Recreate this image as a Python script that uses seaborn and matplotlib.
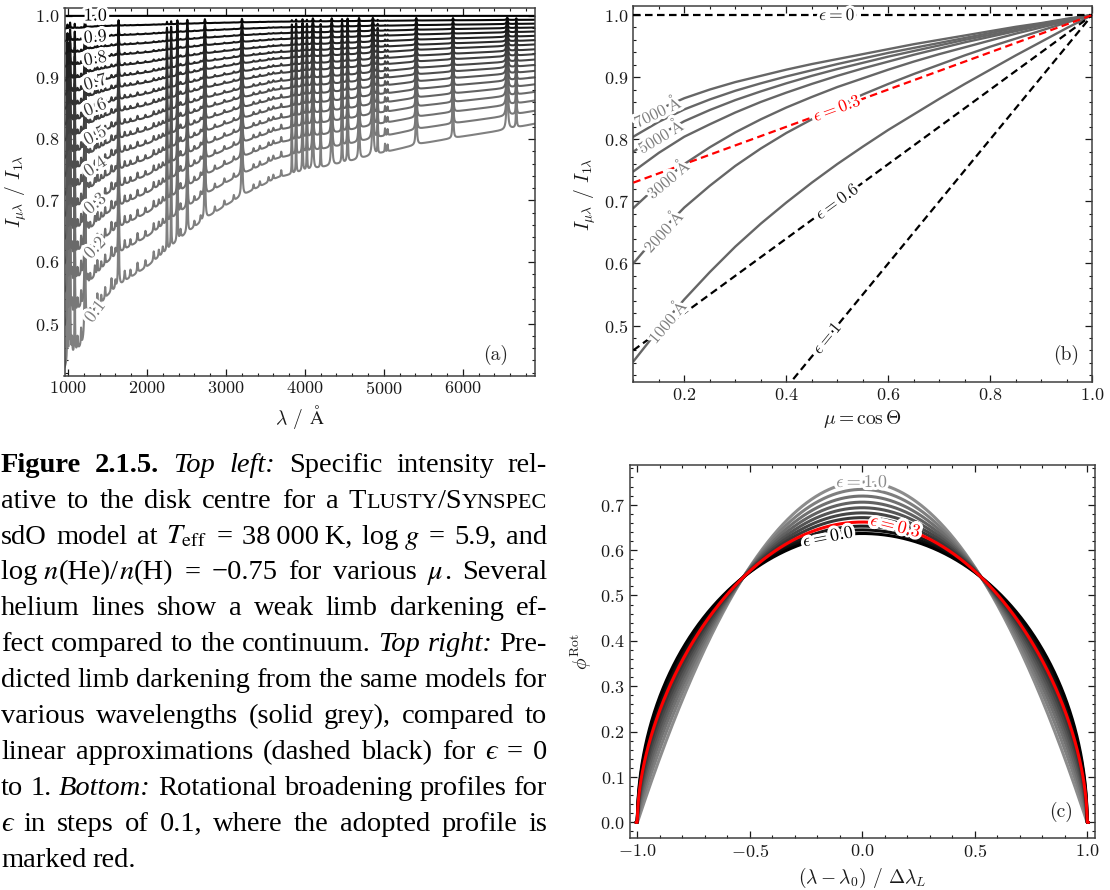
import numpy as np
import pandas as pd
import matplotlib
matplotlib.use("Agg")
import matplotlib.pyplot as plt
import matplotlib.patheffects as pe
from matplotlib.ticker import MultipleLocator
import seaborn as sns

# ---------------------------------------------------------------- data
# Panel (a): specific intensity relative to disk centre
MU_VALUES = [0.10, 0.15, 0.20, 0.25, 0.30, 0.35, 0.40, 0.45, 0.50, 0.55,
             0.60, 0.65, 0.70, 0.75, 0.80, 0.85, 0.90, 0.95, 1.00]
# relative continuum darkening of each mu curve (1 = mu 0.1 curve, 0 = disk centre)
LIMB_SHAPE = [1.00, 0.88, 0.785, 0.705, 0.635, 0.57, 0.51, 0.455, 0.405, 0.355,
              0.31, 0.265, 0.225, 0.185, 0.145, 0.108, 0.072, 0.036, 0.0]
# continuum of the mu = 0.1 curve
WAVE_KNOTS = [950, 1000, 1100, 1200, 1212, 1240, 1300, 1500, 1750, 2000, 2250,
              2500, 2750, 3000, 3300, 3650, 4000, 4500, 5000, 5500, 6000, 6500, 7000]
CONT_MU01 = [0.425, 0.438, 0.452, 0.468, 0.472, 0.500, 0.512, 0.545, 0.571, 0.592, 0.618,
             0.646, 0.671, 0.692, 0.714, 0.737, 0.748, 0.761, 0.778, 0.793, 0.804, 0.814, 0.827]
# H / He lines (weaker limb darkening inside the lines)
LINE_WAVES = [992, 1026, 1085, 1215, 1640, 2253, 2306, 2385, 2511, 2733, 3203,
              3835, 3889, 3970, 4026, 4101, 4200,
              4340, 4471, 4541, 4686, 4861, 4922, 5411, 5876, 6563, 6678]
LINE_FRAC = [0.30, 0.45, 0.35, 0.60, 0.55, 0.30, 0.35, 0.45, 0.50, 0.55, 0.55,
             0.25, 0.35, 0.40, 0.30, 0.55, 0.25,
             0.55, 0.40, 0.50, 0.60, 0.60, 0.20, 0.55, 0.50, 0.60, 0.40]
LINE_HWHM = [3, 3.5, 3, 5, 4, 3, 3, 3.5, 4, 5, 5.5,
             3, 3.5, 4, 3.5, 5.5, 3.5,
             6, 4, 4, 5, 7, 3.5, 5.5, 5, 8, 4]
WEAK_WAVES = [1010, 1050, 1120, 1165, 1250, 1280, 1340, 1371, 1420, 1470, 1550, 1600,
              1718, 1790, 1880, 1980, 2085, 2150, 2200, 2425, 2600, 2680, 2860, 2980,
              3100, 3350, 3430, 3540, 3600, 3700, 5015, 5048]
WEAK_FRAC = [0.04, 0.05, 0.04, 0.05, 0.03, 0.03, 0.04, 0.05, 0.03, 0.04, 0.05, 0.03,
             0.04, 0.03, 0.04, 0.03, 0.04, 0.03, 0.03, 0.04, 0.03, 0.03, 0.03, 0.03,
             0.03, 0.03, 0.03, 0.03, 0.03, 0.04, 0.06, 0.05]
WEAK_HWHM = [4, 5, 5, 4, 5, 5, 6, 5, 6, 5, 7, 6, 7, 6, 7, 7, 7, 6, 7, 7, 7, 7, 7, 7,
             7, 7, 7, 7, 7, 5, 4, 4]
MU_LABEL_WAVE = 1345

# Panel (b): limb darkening at various wavelengths
LD_MU = [0.10, 0.15, 0.20, 0.25, 0.30, 0.35, 0.40, 0.45, 0.50, 0.55,
         0.60, 0.65, 0.70, 0.75, 0.80, 0.85, 0.90, 0.95, 1.00]
LD_7000 = [0.827, 0.848, 0.866, 0.880, 0.892, 0.902, 0.912, 0.921, 0.929, 0.937,
           0.945, 0.953, 0.960, 0.967, 0.974, 0.981, 0.987, 0.994, 1.000]
LD_6000 = [0.804, 0.828, 0.848, 0.864, 0.878, 0.890, 0.901, 0.911, 0.921, 0.930,
           0.939, 0.947, 0.955, 0.963, 0.971, 0.979, 0.986, 0.993, 1.000]
LD_5000 = [0.780, 0.806, 0.829, 0.847, 0.863, 0.877, 0.890, 0.902, 0.913, 0.923,
           0.933, 0.942, 0.951, 0.960, 0.968, 0.976, 0.984, 0.992, 1.000]
LD_4000 = [0.748, 0.778, 0.804, 0.824, 0.843, 0.860, 0.875, 0.889, 0.902, 0.914,
           0.925, 0.936, 0.946, 0.956, 0.965, 0.974, 0.983, 0.992, 1.000]
LD_3000 = [0.689, 0.727, 0.760, 0.787, 0.811, 0.832, 0.851, 0.868, 0.884, 0.898,
           0.912, 0.925, 0.937, 0.948, 0.959, 0.970, 0.980, 0.990, 1.000]
LD_2000 = [0.600, 0.648, 0.690, 0.725, 0.757, 0.785, 0.810, 0.832, 0.853, 0.872,
           0.889, 0.905, 0.920, 0.935, 0.949, 0.962, 0.975, 0.988, 1.000]
LD_1000 = [0.442, 0.494, 0.542, 0.586, 0.627, 0.664, 0.698, 0.730, 0.760, 0.788,
           0.815, 0.840, 0.865, 0.889, 0.912, 0.935, 0.957, 0.979, 1.000]
LD_LABEL_MU = {7000: 0.147, 5000: 0.153, 3000: 0.167, 2000: 0.157, 1000: 0.165}
EPS_LINES = [0.0, 0.3, 0.6, 1.0]
EPS_LINE_LABEL_MU = [0.5, 0.5, 0.5, 0.48]

# Panel (c): rotational broadening profiles
EPS_PROFILES = [0.0, 0.1, 0.2, 0.3, 0.4, 0.5, 0.6, 0.7, 0.8, 0.9, 1.0]
EPS_ADOPTED = 0.3
EPS_PROFILE_LABELS = {1.0: 0.0, 0.3: 0.15, 0.0: -0.15}

# Caption
CAPTION = [
    [("Figure", "bf"), ("2.1.5.", "bf"), ("Top", "it"), ("left:", "it"), "Specific", "intensity", "rel-"],
    ["ative", "to", "the", "disk", "centre", "for", "a",
     [("T", "rm"), ("LUSTY", "sc"), ("/S", "rm"), ("YNSPEC", "sc")]],
    ["sdO", "model", "at", ("$T_{\\mathrm{eff}}$", "rm"), "=", "38\u2009000\u2009K,",
     [("log\u2009", "rm"), ("$g$", "rm")], "=", "5.9,", "and"],
    [[("log\u2009", "rm"), ("$n$", "rm"), ("(He)/", "rm"), ("$n$", "rm"), ("(H)", "rm")],
     "=", "\u22120.75", "for", "various", [("$\\mu$", "rm"), (".", "rm")], "Several"],
    ["helium", "lines", "show", "a", "weak", "limb", "darkening", "ef-"],
    ["fect", "compared", "to", "the", "continuum.", ("Top", "it"), ("right:", "it"), "Pre-"],
    ["dicted", "limb", "darkening", "from", "the", "same", "models", "for"],
    ["various", "wavelengths", "(solid", "grey),", "compared", "to"],
    ["linear", "approximations", "(dashed", "black)", "for", ("\u03f5", "rm"), "=", "0"],
    ["to", "1.", ("Bottom:", "it"), "Rotational", "broadening", "profiles", "for"],
    [("\u03f5", "rm"), "in", "steps", "of", "0.1,", "where", "the", "adopted", "profile", "is"],
    ["marked", "red."],
]

# ---------------------------------------------------------------- style
sns.set_theme(style="ticks")
plt.rcParams.update({
    "font.family": "serif",
    "font.serif": ["cmr10", "DejaVu Serif"],
    "mathtext.fontset": "cm",
    "axes.formatter.use_mathtext": True,
    "axes.unicode_minus": True,
    "axes.edgecolor": "#404040",
    "axes.linewidth": 1.1,
    "axes.labelcolor": "#1a1a1a",
    "axes.labelsize": 14,
    "xtick.direction": "in", "ytick.direction": "in",
    "xtick.top": True, "ytick.right": True,
    "xtick.major.size": 5, "ytick.major.size": 5,
    "xtick.minor.size": 2.5, "ytick.minor.size": 2.5,
    "xtick.major.width": 0.9, "ytick.major.width": 0.9,
    "xtick.minor.width": 0.8, "ytick.minor.width": 0.8,
    "xtick.color": "#1a1a1a", "ytick.color": "#1a1a1a",
    "xtick.labelsize": 13, "ytick.labelsize": 13,
})

W, H = 1110, 890
fig = plt.figure(figsize=(W / 100, H / 100), dpi=100)


def add_ax(l, t, r, b):
    return fig.add_axes([l / W, 1 - b / H, (r - l) / W, (b - t) / H])


def screen_angle(ax, x0, y0, x1, y1):
    p0 = ax.transData.transform((x0, y0))
    p1 = ax.transData.transform((x1, y1))
    return np.degrees(np.arctan2(p1[1] - p0[1], p1[0] - p0[0]))


halo = [pe.withStroke(linewidth=4.5, foreground="white")]


def inline_label(ax, x, y, ang, s, color, size):
    ax.text(x, y, s, color=color, fontsize=size, rotation=ang, rotation_mode="anchor",
            ha="center", va="center", zorder=6, path_effects=halo)


def style_ticks(ax, xmaj, xmin, ymaj, ymin):
    ax.xaxis.set_major_locator(MultipleLocator(xmaj))
    ax.xaxis.set_minor_locator(MultipleLocator(xmin))
    ax.yaxis.set_major_locator(MultipleLocator(ymaj))
    ax.yaxis.set_minor_locator(MultipleLocator(ymin))
    ax.tick_params(which="both", top=True, right=True, direction="in")


# ---------------------------------------------------------------- panel (a)
axA = add_ax(64.5, 7.7, 535, 375.5)
wl = np.arange(950.0, 6921.0, 1.0)
cont01 = np.interp(wl, WAVE_KNOTS, CONT_MU01)
prof = np.zeros_like(wl)
for w0, f, hw in zip(LINE_WAVES + WEAK_WAVES, LINE_FRAC + WEAK_FRAC, LINE_HWHM + WEAK_HWHM):
    prof += f * hw ** 2 / ((wl - w0) ** 2 + hw ** 2)
prof = np.clip(prof, 0, 0.9)

frames = []
for mu, g in zip(MU_VALUES, LIMB_SHAPE):
    frames.append(pd.DataFrame({"wl": wl, "I": 1 - (1 - cont01) * g * (1 - prof), "mu": mu}))
dfA = pd.concat(frames, ignore_index=True)


def mu_color(mu):
    c = 0.5 * (1 - (mu - 0.1) / 0.9)
    return (c, c, c)


palA = {mu: mu_color(mu) for mu in MU_VALUES}
sns.lineplot(data=dfA, x="wl", y="I", hue="mu", hue_order=MU_VALUES, palette=palA,
             estimator=None, sort=False, legend=False, linewidth=1.5, ax=axA)
axA.set_xlim(955, 6915)
axA.set_ylim(0.4155, 1.0133)
style_ticks(axA, 1000, 200, 0.1, 0.02)
axA.set_xlabel(r"$\lambda$ / $\mathrm{\AA}$")
axA.set_ylabel(r"$I_{\mu\lambda}$ / $I_{1\lambda}$")

for mu, g in zip(MU_VALUES, LIMB_SHAPE):
    if abs(mu * 10 - round(mu * 10)) > 1e-6:
        continue
    def cval(lam):
        return 1 - (1 - np.interp(lam, WAVE_KNOTS, CONT_MU01)) * g
    yl = cval(MU_LABEL_WAVE)
    ang = screen_angle(axA, MU_LABEL_WAVE - 50, cval(MU_LABEL_WAVE - 50),
                       MU_LABEL_WAVE + 50, cval(MU_LABEL_WAVE + 50))
    inline_label(axA, MU_LABEL_WAVE, yl, ang, f"{mu:.1f}", palA[mu], 13)
axA.text(0.917, 0.057, "(a)", transform=axA.transAxes, ha="center", va="center", fontsize=14)

# ---------------------------------------------------------------- panel (b)
axB = add_ax(633.3, 6.0, 1092.3, 381.7)
ld_curves = {7000: LD_7000, 6000: LD_6000, 5000: LD_5000, 4000: LD_4000,
             3000: LD_3000, 2000: LD_2000, 1000: LD_1000}
dfB = pd.concat([pd.DataFrame({"mu": LD_MU, "I": v, "wave": k}) for k, v in ld_curves.items()],
                ignore_index=True)
sns.lineplot(data=dfB, x="mu", y="I", hue="wave", palette={k: "#666666" for k in ld_curves},
             estimator=None, legend=False, linewidth=1.7, ax=axB, zorder=2)
mu_ends = [0.1, 1.0]
for eps in EPS_LINES:
    col = "red" if abs(eps - 0.3) < 1e-9 else "black"
    sns.lineplot(x=mu_ends, y=[1 - eps * (1 - m) for m in mu_ends], color=col,
                 linestyle=(0, (3.4, 2.0)), linewidth=1.6, ax=axB, zorder=4 if col == "red" else 3)
axB.set_xlim(0.1, 1.0)
axB.set_ylim(0.4095, 1.0145)
style_ticks(axB, 0.2, 0.05, 0.1, 0.02)
axB.set_xlabel(r"$\mu = \cos\Theta$")
axB.set_ylabel(r"$I_{\mu\lambda}$ / $I_{1\lambda}$")

for wave, mu_l in LD_LABEL_MU.items():
    vals = ld_curves[wave]
    yl = np.interp(mu_l, LD_MU, vals)
    ang = screen_angle(axB, mu_l - 0.03, np.interp(mu_l - 0.03, LD_MU, vals),
                       mu_l + 0.03, np.interp(mu_l + 0.03, LD_MU, vals))
    inline_label(axB, mu_l, yl, ang, rf"${wave}\;\mathrm{{\AA}}$", "#808080", 12)
for eps, mu_l in zip(EPS_LINES, EPS_LINE_LABEL_MU):
    col = "red" if abs(eps - 0.3) < 1e-9 else "#1a1a1a"
    ang = screen_angle(axB, 0.1, 1 - eps * 0.9, 1.0, 1.0)
    lab = "0" if eps == 0 else ("1" if eps == 1 else f"{eps:.1f}")
    inline_label(axB, mu_l, 1 - eps * (1 - mu_l), ang, rf"$\epsilon = {lab}$", col, 12.5)
axB.text(0.943, 0.071, "(b)", transform=axB.transAxes, ha="center", va="center", fontsize=14)

# ---------------------------------------------------------------- panel (c)
axC = add_ax(629.5, 465.0, 1095, 838.3)
x_prof = np.linspace(-1.006, 1.006, 1207)


def rot_profile(x, eps):
    q = np.clip(1 - x ** 2, 0, None)
    return (2 * (1 - eps) * np.sqrt(q) + 0.5 * np.pi * eps * q) / (np.pi * (1 - eps / 3))


dfC = pd.concat([pd.DataFrame({"x": x_prof, "phi": rot_profile(x_prof, e), "eps": e})
                 for e in EPS_PROFILES], ignore_index=True)


def eps_color(e):
    c = 0.55 * e
    return (c, c, c)


order_c = [e for e in EPS_PROFILES[::-1] if abs(e - EPS_ADOPTED) > 1e-9]
sns.lineplot(data=dfC[dfC["eps"].isin(order_c)], x="x", y="phi", hue="eps", hue_order=order_c,
             palette={e: eps_color(e) for e in order_c}, estimator=None, sort=False,
             legend=False, linewidth=2.2, ax=axC)
sns.lineplot(data=dfC[np.isclose(dfC["eps"], EPS_ADOPTED)], x="x", y="phi", color="red",
             estimator=None, sort=False, linewidth=2.2, ax=axC, zorder=4)
axC.set_xlim(-1.035, 1.035)
axC.set_ylim(-0.035, 0.7875)
style_ticks(axC, 0.5, 0.1, 0.1, 0.02)
axC.set_xlabel(r"$(\lambda - \lambda_0)$ / $\Delta\lambda_L$")
axC.set_ylabel(r"$\phi^{\mathrm{Rot}}$")
for e, xl in EPS_PROFILE_LABELS.items():
    col = "red" if abs(e - EPS_ADOPTED) < 1e-9 else eps_color(e)
    yl = rot_profile(np.array([xl]), e)[0]
    ang = screen_angle(axC, xl - 0.05, rot_profile(np.array([xl - 0.05]), e)[0],
                       xl + 0.05, rot_profile(np.array([xl + 0.05]), e)[0])
    inline_label(axC, xl, yl, ang, rf"$\epsilon = {e:.1f}$", col, 13)
axC.text(0.927, 0.070, "(c)", transform=axC.transAxes, ha="center", va="center", fontsize=14)

# ---------------------------------------------------------------- caption
CAP_FONT = "Liberation Serif"
CAP_SIZE = 20.5
X0, X1 = 1.0, 547.0
BASE0, LEAD = 471.7, 35.9


def piece_kwargs(style, text):
    fam = [CAP_FONT, "DejaVu Serif"] if "\u03f5" in text else CAP_FONT
    kw = dict(family=fam, size=CAP_SIZE, color="black", math_fontfamily="stix")
    if style == "bf":
        kw["weight"] = "bold"
    elif style == "it":
        kw["style"] = "italic"
    elif style == "sc":
        kw["size"] = CAP_SIZE * 0.78
    if "\u03f5" in text:
        kw["style"] = "italic"
    return kw


renderer = fig.canvas.get_renderer()
for i, words in enumerate(CAPTION):
    yb = BASE0 + LEAD * i
    word_objs, total = [], 0.0
    for w in words:
        pieces = w if isinstance(w, list) else [w]
        objs, ww = [], 0.0
        for p in pieces:
            s, st = (p, "rm") if isinstance(p, str) else p
            t = fig.text(0, 1 - yb / H, s, ha="left", va="baseline", **piece_kwargs(st, s))
            wd = t.get_window_extent(renderer).width
            objs.append((t, wd))
            ww += wd
        word_objs.append((objs, ww))
        total += ww
    justify = i < len(CAPTION) - 1
    gap = (X1 - X0 - total) / (len(word_objs) - 1) if justify else 6.5
    x = X0
    for objs, ww in word_objs:
        for t, wd in objs:
            t.set_x(x / W)
            x += wd
        x += gap

fig.savefig("out.png", dpi=100)
